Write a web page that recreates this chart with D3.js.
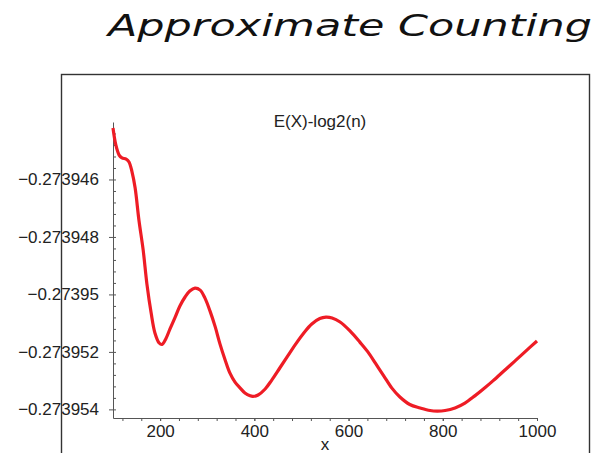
<!DOCTYPE html>
<html>
<head>
<meta charset="utf-8">
<script src="https://cdn.jsdelivr.net/npm/d3@7"></script>
<style>
  body { margin: 0; background: #fff; }
  .axis text { font-family: "Liberation Sans", Arial, sans-serif; font-size: 17px; fill: #222; }
  .axis path, .axis line { stroke: #555; }
</style>
</head>
<body>
<div id="chart"></div>
<script>
// n values and E(X)-log2(n)
let nValues = [100, 106, 113, 119, 128, 134, 140, 147, 155, 164, 172, 181, 189, 198, 204,
               212, 221, 232, 242, 253, 263, 274, 285, 295, 306, 317, 327, 338, 348, 359,
               370, 380, 391, 397, 408, 423, 437, 454, 471, 488, 505, 522, 539, 552, 565,
               582, 603, 624, 641, 658, 675, 692, 709, 730, 752, 773, 788, 805, 826, 847,
               868, 890, 907, 932, 953, 975, 1000];
let diffValues = [-0.27394421, -0.27394480, -0.27394515, -0.27394525, -0.27394529, -0.27394539,
                  -0.27394571, -0.27394630, -0.27394741, -0.27394845, -0.27394964, -0.27395065,
                  -0.27395134, -0.27395169, -0.27395174, -0.27395155, -0.27395120, -0.27395079,
                  -0.27395040, -0.27395009, -0.27394988, -0.27394978, -0.27394985, -0.27395012,
                  -0.27395058, -0.27395113, -0.27395172, -0.27395228, -0.27395273, -0.27395305,
                  -0.27395326, -0.27395343, -0.27395353, -0.27395355, -0.27395350, -0.27395329,
                  -0.27395298, -0.27395256, -0.27395214, -0.27395172, -0.27395134, -0.27395103,
                  -0.27395084, -0.27395079, -0.27395082, -0.27395096, -0.27395127, -0.27395166,
                  -0.27395200, -0.27395242, -0.27395284, -0.27395326, -0.27395357, -0.27395383,
                  -0.27395395, -0.27395404, -0.27395406, -0.27395404, -0.27395395, -0.27395378,
                  -0.27395353, -0.27395324, -0.27395300, -0.27395263, -0.27395232, -0.27395199,
                  -0.27395162];

let xTicks = [200, 400, 600, 800, 1000];
let xMinorTicks = d3.range(120, 1001, 40);
let yTicks = [-0.273946, -0.273948, -0.27395, -0.273952, -0.273954];
let yTickLabels = ["\u22120.273946", "\u22120.273948", "\u22120.27395", "\u22120.273952", "\u22120.273954"];
let yMinorTicks = d3.range(-0.2739444, -0.2739543, -0.0000004);

let titleText = "Approximate Counting";
let plotLabel = "E(X)-log2(n)";
let xLabel = "x";

let W = 601, H = 453;
let margin = {top: 122, right: 64, bottom: 35, left: 113};
let width = W - margin.left - margin.right,
    height = H - margin.top - margin.bottom;

let svg = d3.select("#chart").append("svg")
    .attr("width", W)
    .attr("height", H);

// title
svg.append("text")
    .attr("x", 108)
    .attr("y", 36)
    .attr("textLength", 484)
    .attr("lengthAdjust", "spacingAndGlyphs")
    .style("font-family", "'DejaVu Sans', sans-serif")
    .style("font-style", "oblique")
    .style("font-size", "31px")
    .style("fill", "#111")
    .text(titleText);

let g = svg.append("g")
    .attr("transform", "translate(" + margin.left + "," + margin.top + ")");

let x = d3.scaleLinear().domain([100, 1000]).range([0, width]);
let y = d3.scaleLinear().domain([-0.2739543, -0.273944]).range([height, 0]);

let data = nValues.map(function(n, i) { return {n: n, v: diffValues[i]}; });

// minor ticks
g.append("g")
    .attr("class", "axis")
    .attr("transform", "translate(0," + height + ")")
    .call(d3.axisBottom(x).tickValues(xMinorTicks).tickSize(3).tickFormat("").tickSizeOuter(0))
    .select(".domain").remove();
g.append("g")
    .attr("class", "axis")
    .call(d3.axisLeft(y).tickValues(yMinorTicks).tickSize(-3).tickFormat("").tickSizeOuter(0))
    .select(".domain").remove();

// x axis
g.append("g")
    .attr("class", "axis")
    .attr("transform", "translate(0," + height + ")")
    .call(d3.axisBottom(x).tickValues(xTicks).tickSize(3).tickPadding(4).tickSizeOuter(0)
        .tickFormat(d3.format("d")));

// y axis
g.append("g")
    .attr("class", "axis")
    .call(d3.axisLeft(y).tickValues(yTicks).tickSize(4).tickPadding(10).tickSizeOuter(0)
        .tickFormat(function(d, i) { return yTickLabels[i]; }));

// the curve
let line = d3.line()
    .x(function(d) { return x(d.n); })
    .y(function(d) { return y(d.v); })
    .curve(d3.curveCatmullRom.alpha(0.5));

g.append("path")
    .datum(data)
    .attr("fill", "none")
    .attr("stroke", "#ee1c25")
    .attr("stroke-width", 3.2)
    .attr("stroke-linejoin", "round")
    .attr("d", line);

svg.append("text")
    .attr("x", 320)
    .attr("y", 127)
    .style("text-anchor", "middle")
    .style("font-family", "'Liberation Sans', Arial, sans-serif")
    .style("font-size", "17px")
    .style("fill", "#222")
    .text(plotLabel);

svg.append("text")
    .attr("x", 325)
    .attr("y", 450)
    .style("text-anchor", "middle")
    .style("font-family", "'Liberation Sans', Arial, sans-serif")
    .style("font-size", "17px")
    .style("fill", "#222")
    .text(xLabel);

// outer frame, drawn over the labels
svg.append("rect")
    .attr("x", 61.5)
    .attr("y", 74.5)
    .attr("width", 528)
    .attr("height", 420)
    .attr("fill", "none")
    .attr("stroke", "#333")
    .attr("stroke-width", 1.4);
</script>
</body>
</html>
